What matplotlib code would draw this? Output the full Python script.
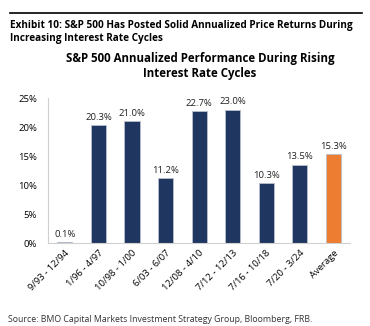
import matplotlib
matplotlib.use('Agg')
import matplotlib.pyplot as plt
import numpy as np

plt.rcParams['font.family'] = ['Open Sans', 'DejaVu Sans']

periodes = ['9/93 - 12/94', '1/96 - 4/97', '10/98 - 1/00', '6/03 - 6/07',
            '12/08 - 4/10', '7/12 - 12/13', '7/16 - 10/18', '7/20 - 3/24', 'Average']
rendements = [0.1, 20.3, 21.0, 11.2, 22.7, 23.0, 10.3, 13.5, 15.3]
yticks = [0, 5, 10, 15, 20, 25]

navy = '#1f3661'
orange = '#ed7d31'
couleurs = [navy] * 8 + [orange]

fig = plt.figure(figsize=(3.7, 3.26), dpi=100)
ax = fig.add_axes([0.130, 0.2546, 0.816, 0.4446])

x = np.arange(len(periodes))
ax.bar(x, rendements, width=0.45, color=couleurs, edgecolor='#b8bfcc', linewidth=0.6)
for xi, v in zip(x, rendements):
    ax.text(xi, v + 0.6, f'{v:.1f}%', ha='center', va='bottom', fontsize=6.8, color='#222222')

ax.set_xlim(-0.5, len(periodes) - 0.5)
ax.set_ylim(0, 25)
ax.set_yticks(yticks)
ax.set_yticklabels([f'{t}%' for t in yticks], fontsize=6.8)
ax.set_xticks(x)
ax.set_xticklabels(periodes, rotation=45, ha='right', rotation_mode='anchor', fontsize=6.8)
ax.tick_params(length=0, pad=8)
ax.tick_params(axis='x', pad=4)
for s in ['top', 'right']:
    ax.spines[s].set_visible(False)
for s in ['left', 'bottom']:
    ax.spines[s].set_color('#d0d0d0')
    ax.spines[s].set_linewidth(0.8)

# bandeau du haut
fig.add_artist(plt.Line2D([10/370, 362/370], [1 - 13/326, 1 - 13/326], color='black', linewidth=1.2))
fig.text(10/370, 1 - 20/326, 'Exhibit 10: S&P 500 Has Posted Solid Annualized Price Returns During\nIncreasing Interest Rate Cycles',
         ha='left', va='top', fontsize=7.2, fontweight='bold', linespacing=1.2)
fig.text(200/370, 1 - 52/326, 'S&P 500 Annualized Performance During Rising\nInterest Rate Cycles',
         ha='center', va='top', fontsize=8.3, fontweight='bold', linespacing=1.15)
fig.text(8/370, 1 - 319/326, 'Source: BMO Capital Markets Investment Strategy Group, Bloomberg, FRB.',
         ha='left', va='center', fontsize=6.3, color='#333333')

fig.savefig('out.png', dpi=100)
